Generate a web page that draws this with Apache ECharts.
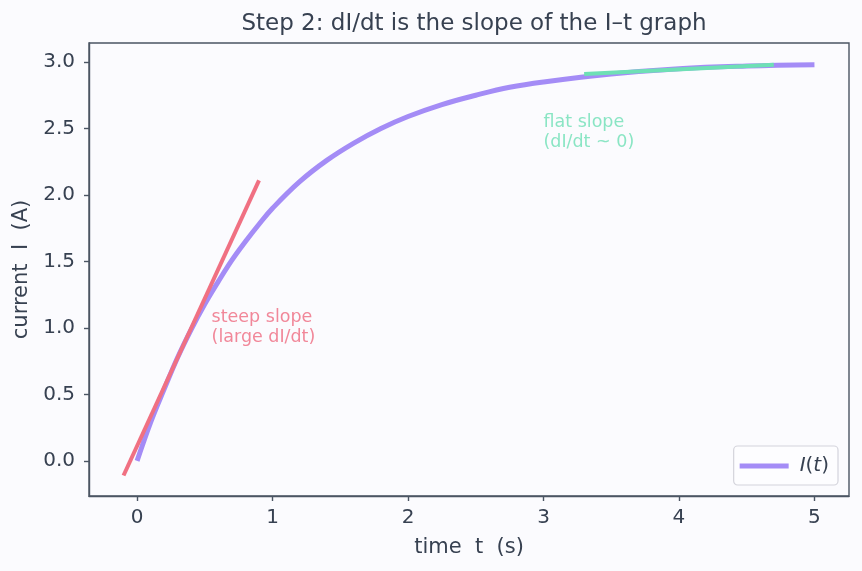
<!DOCTYPE html>
<html><head><meta charset="utf-8">
<script src="https://cdn.jsdelivr.net/npm/echarts@6/dist/echarts.min.js"></script>
<style>html,body{margin:0;padding:0;background:#fbfbfe}#c{width:862px;height:571px}</style>
</head><body><div id="c"></div>
<script>
const tValues = [0,0.1,0.2,0.3,0.4,0.5,0.6,0.7,0.8,0.9,1.0,1.2,1.4,1.6,1.8,2.0,2.25,2.5,2.75,3.0,3.5,4.0,4.5,5.0];
const iValues = [0,0.29,0.54,0.78,0.99,1.18,1.35,1.51,1.65,1.78,1.90,2.10,2.26,2.39,2.50,2.59,2.68,2.75,2.81,2.85,2.91,2.95,2.97,2.98];
const steepT = [-0.1, 0.9];
const steepI = [-0.11, 2.11];
const flatT = [3.3, 4.7];
const flatI = [2.91, 2.98];
const xTicks = [0,1,2,3,4,5];
const yTicks = [0,0.5,1.0,1.5,2.0,2.5,3.0];
const steepNote = {t:0.55, i:1.0, text:'steep slope\n(large dI/dt)'};
const flatNote = {t:3.0, i:2.47, text:'flat slope\n(dI/dt ~ 0)'};

const txt = '#374151', axisC = '#4b5563';
const font = 'DejaVu Sans';
const zip = (a,b)=>a.map((v,k)=>[v,b[k]]);
const chart = echarts.init(document.getElementById('c'), null, {renderer:'canvas'});
chart.setOption({
  backgroundColor:'#fbfbfe',
  animation:false,
  textStyle:{fontFamily:font},
  title:{text:'Step 2: dI/dt is the slope of the I\u2013t graph', left:469, textAlign:'center', top:8,
    textStyle:{fontFamily:font, fontSize:23, fontWeight:'normal', color:txt}},
  grid:{left:89, right:13, top:43, bottom:75, show:true, borderColor:axisC, borderWidth:1.4, backgroundColor:'#fbfbfe'},
  xAxis:{type:'value', min:-0.355, max:5.255, name:'time  t  (s)', nameLocation:'middle', nameGap:41,
    nameTextStyle:{fontFamily:font, fontSize:21, color:txt},
    axisLine:{show:true, onZero:false, lineStyle:{color:axisC, width:1.4}},
    axisTick:{show:true, length:5, customValues:xTicks, lineStyle:{color:axisC, width:1.4}},
    axisLabel:{customValues:xTicks, fontFamily:font, fontSize:20, color:txt, margin:12, formatter:v=>String(v)},
    splitLine:{show:false}},
  yAxis:{type:'value', min:-0.264, max:3.143, name:'current  I  (A)', nameLocation:'middle', nameGap:57, nameRotate:90,
    nameTextStyle:{fontFamily:font, fontSize:21, color:txt},
    axisLine:{show:true, onZero:false, lineStyle:{color:axisC, width:1.4}},
    axisTick:{show:true, length:5, customValues:yTicks, lineStyle:{color:axisC, width:1.4}},
    axisLabel:{customValues:yTicks, fontFamily:font, fontSize:20, color:txt, margin:14, formatter:v=>v.toFixed(1)},
    splitLine:{show:false}},
  legend:{data:['I(t)'], right:24, bottom:86, orient:'vertical', icon:'rect', itemWidth:49, itemHeight:5,
    itemGap:0, padding:[10,9,9,6], borderColor:'#d4d4dc', borderWidth:1.2, borderRadius:4, backgroundColor:'#fdfdff',
    formatter:()=>'{i|I}({i|t})',
    textStyle:{fontFamily:font, fontSize:20, color:txt, padding:[0,0,0,6], rich:{i:{fontFamily:font, fontStyle:'italic', fontSize:20, color:txt}}}},
  series:[
    {name:'I(t)', type:'line', data:zip(tValues,iValues), smooth:0.4, showSymbol:false, symbol:'none',
      lineStyle:{color:'#a48cf6', width:5}, itemStyle:{color:'#a48cf6'}, z:2},
    {name:'steep', type:'line', data:zip(steepT,steepI), showSymbol:false, symbol:'none',
      lineStyle:{color:'#f07082', width:4}, z:3},
    {name:'flat', type:'line', data:zip(flatT,flatI), showSymbol:false, symbol:'none',
      lineStyle:{color:'#6ee0b5', width:4}, z:3},
    {name:'notes', type:'scatter', symbolSize:0, silent:true, z:4,
      data:[
        {value:[steepNote.t, steepNote.i], label:{show:true, formatter:steepNote.text, color:'#ef6a80'}},
        {value:[flatNote.t, flatNote.i], label:{show:true, formatter:flatNote.text, color:'#6ee0b5'}}
      ],
      label:{show:true, position:'inside', align:'left', verticalAlign:'middle', fontFamily:font, fontSize:17.5, lineHeight:20}}
  ]
});
</script></body></html>
